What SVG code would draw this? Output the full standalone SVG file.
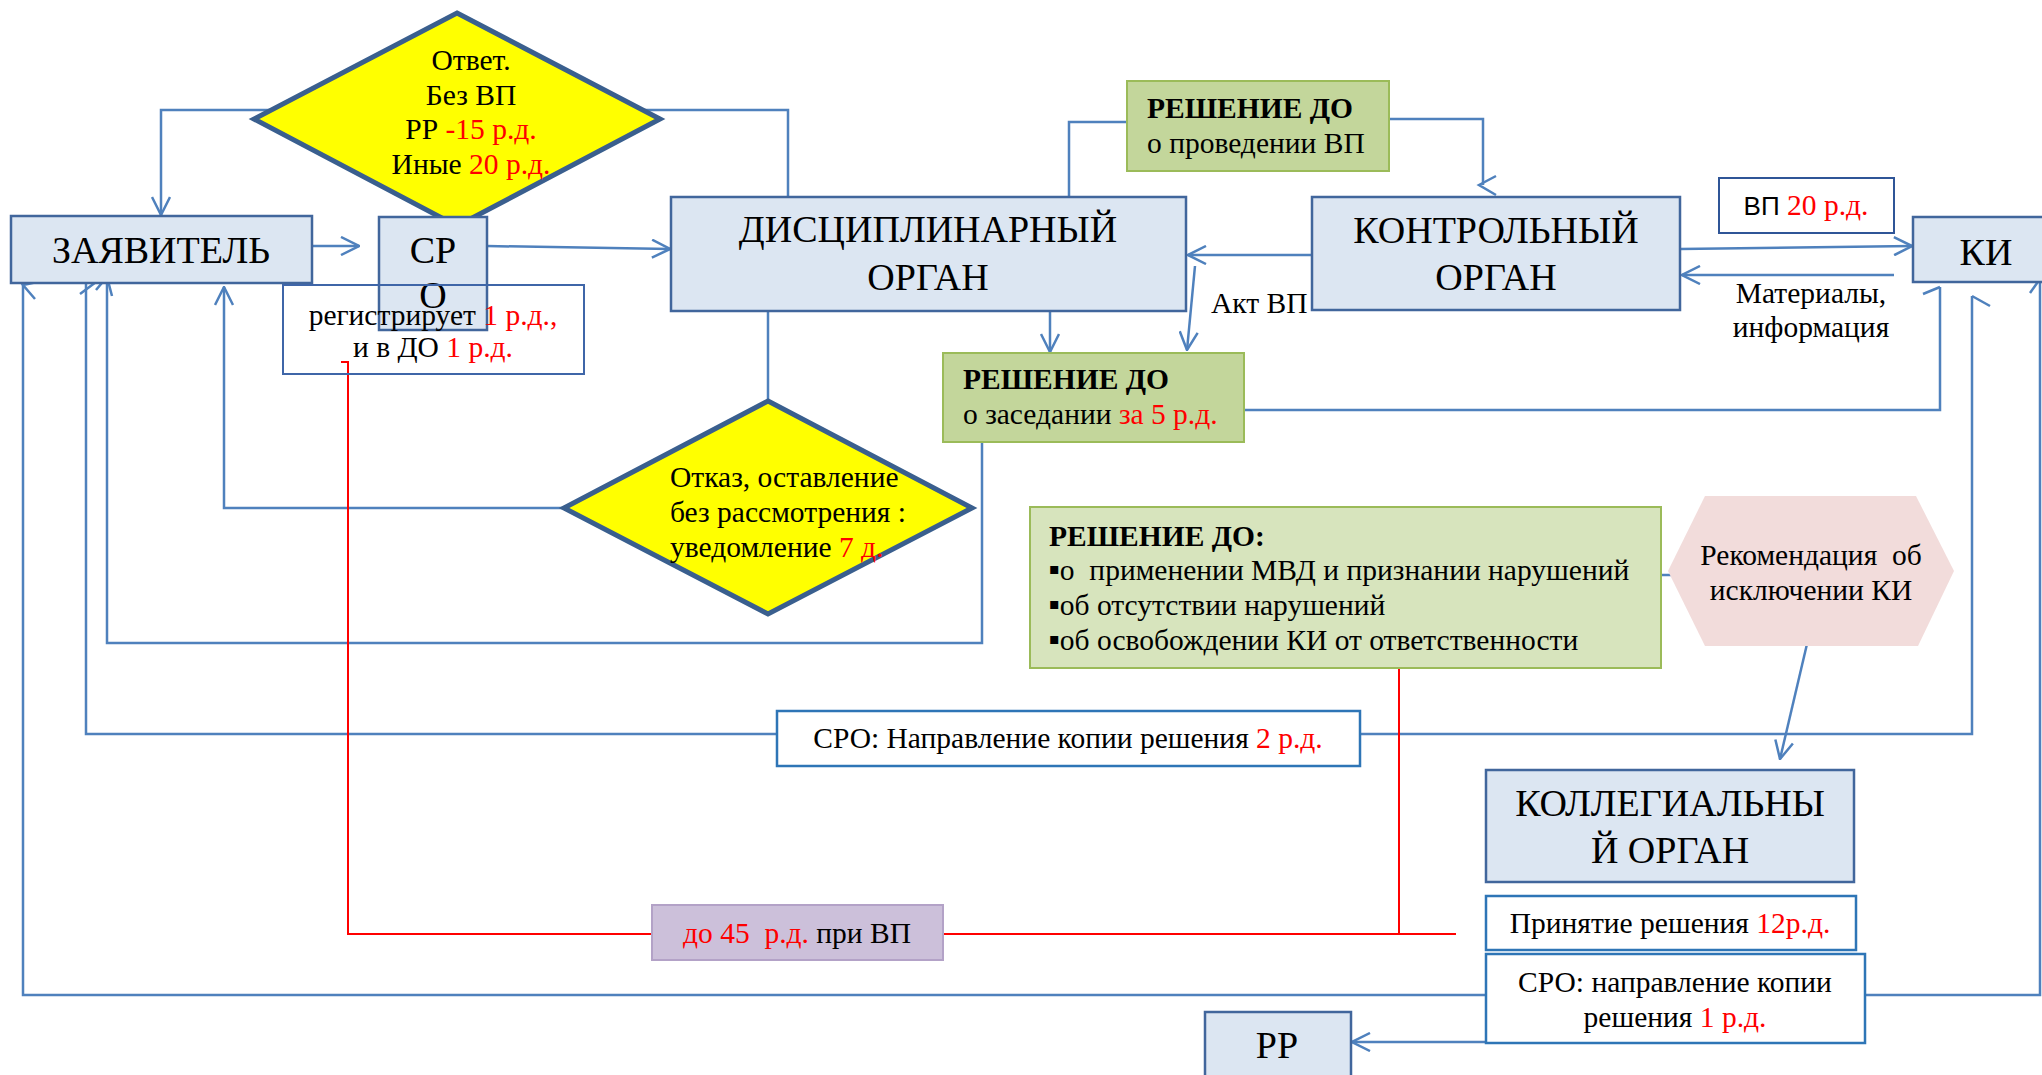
<svg xmlns="http://www.w3.org/2000/svg" width="2042" height="1075" viewBox="0 0 2042 1075">
<style>
text{font-family:"Liberation Serif","Times New Roman",serif;fill:#000;white-space:pre}
.big{font-size:38px}
.mid{font-size:29.5px}
.b{font-weight:bold}
.r{fill:#FF0000}
.sans{font-family:"Liberation Sans",Arial,sans-serif}
.org{fill:#DCE6F2;stroke:#41669C;stroke-width:2.5}
.dia{fill:#FFFF00;stroke:#3A5F8E;stroke-width:5;stroke-linejoin:miter}
.gr{fill:#C3D69B;stroke:#9BBB59;stroke-width:2}
.gr2{fill:#D7E4BD;stroke:#9BBB59;stroke-width:2}
.wb{fill:#FFFFFF;stroke:#2E75B6;stroke-width:2.5}
.ln{fill:none;stroke:#4F81BD;stroke-width:2.5}
.red{fill:none;stroke:#FF0000;stroke-width:2}
</style>
<defs>
<marker id="ah" viewBox="0 0 20 20" refX="19" refY="10" markerWidth="20" markerHeight="20" markerUnits="userSpaceOnUse" orient="auto">
<path d="M1,1 L19,10 L1,19" fill="none" stroke="#4F81BD" stroke-width="2.5"/>
</marker>
</defs>
<rect width="2042" height="1075" fill="#FFFFFF"/>

<g id="connectors">
<path class="ln" d="M300,110 H161 V215" marker-end="url(#ah)"/>
<path class="ln" d="M640,110 H788 V197"/>
<path class="ln" d="M312,246 H359" marker-end="url(#ah)"/>
<path class="ln" d="M487,246 L670,249" marker-end="url(#ah)"/>
<path class="ln" d="M1050,311 V352" marker-end="url(#ah)"/>
<path class="ln" d="M1312,255 H1188" marker-end="url(#ah)"/>
<path class="ln" d="M1195,266 L1187,350" marker-end="url(#ah)"/>
<path class="ln" d="M1069,197 V122 H1127"/>
<path class="ln" d="M1389,119 H1483 V185"/>
<polyline class="ln" points="1496,176 1479,185 1496,195"/>
<path class="ln" d="M1680,249 L1912,246" marker-end="url(#ah)"/>
<path class="ln" d="M1894,275 H1682" marker-end="url(#ah)"/>
<path class="ln" d="M1235,410 H1940 V287"/>
<polyline class="ln" points="1923,294 1940,287"/>
<path class="ln" d="M768,311 V400"/>
<path class="ln" d="M564,508 H224 V287" marker-end="url(#ah)"/>
<path class="ln" d="M982,440 V643 H107 V277"/>
<polyline class="ln" points="96,290 107,277 112,296"/>
<path class="ln" d="M86,283 V734 H1972 V296"/>
<polyline class="ln" points="80,275 96,282 80,294"/>
<polyline class="ln" points="1972,296 1990,306"/>
<path class="ln" d="M23,285 V995 H2040 V279"/>
<polyline class="ln" points="42,281 23,285 35,299"/>
<polyline class="ln" points="2030,293 2040,279"/>
<path class="ln" d="M1632,575 H1679"/>
<path class="ln" d="M1807,644 L1780,759" marker-end="url(#ah)"/>
<path class="ln" d="M1486,1042 H1352" marker-end="url(#ah)"/>
<path class="red" d="M341,362 H348 V934 H652"/>
<path class="red" d="M943,934 H1456"/>
<path class="red" d="M1399,663 V934"/>
</g>

<g id="otvet">
<polygon class="dia" points="457,13 660,119 457,226 254,119"/>
<text class="mid" x="471" y="70" text-anchor="middle">Ответ.</text>
<text class="mid" x="471" y="105" text-anchor="middle">Без ВП</text>
<text class="mid" x="471" y="139" text-anchor="middle">РР <tspan class="r">-15 р.д.</tspan></text>
<text class="mid" x="471" y="174" text-anchor="middle">Иные <tspan class="r">20 р.д.</tspan></text>
</g>

<g id="zayavitel">
<rect class="org" x="11" y="216" width="301" height="67"/>
<text class="big" x="161" y="263" text-anchor="middle">ЗАЯВИТЕЛЬ</text>
</g>

<g id="sro">
<rect class="org" x="379" y="217" width="108" height="113"/>
<text class="big" x="433" y="263" text-anchor="middle">СР</text>
<text class="big" x="433" y="308" text-anchor="middle">О</text>
</g>

<g id="registr">
<rect x="283" y="285" width="301" height="89" fill="none" stroke="#3F66A8" stroke-width="2"/>
<text class="mid" x="433" y="325" text-anchor="middle">регистрирует <tspan class="r">1 р.д.,</tspan></text>
<text class="mid" x="433" y="357" text-anchor="middle">и в ДО <tspan class="r">1 р.д.</tspan></text>
</g>

<g id="disc">
<rect class="org" x="671" y="197" width="515" height="114"/>
<text class="big" x="928" y="242" text-anchor="middle">ДИСЦИПЛИНАРНЫЙ</text>
<text class="big" x="928" y="290" text-anchor="middle">ОРГАН</text>
</g>

<g id="reshenie-vp">
<rect class="gr" x="1127" y="81" width="262" height="90"/>
<text class="mid b" x="1147" y="118">РЕШЕНИЕ ДО</text>
<text class="mid" x="1147" y="153">о проведении ВП</text>
</g>

<g id="kontrol">
<rect class="org" x="1312" y="197" width="368" height="113"/>
<text class="big" x="1496" y="243" text-anchor="middle">КОНТРОЛЬНЫЙ</text>
<text class="big" x="1496" y="290" text-anchor="middle">ОРГАН</text>
</g>

<g id="akt-label">
<text class="mid" x="1211" y="313">Акт ВП</text>
</g>

<g id="vp20">
<rect x="1719" y="178" width="175" height="55" fill="#FFFFFF" stroke="#2F5597" stroke-width="2"/>
<text class="mid" x="1806" y="215" text-anchor="middle"><tspan class="sans" font-size="26">ВП</tspan> <tspan class="r">20 р.д.</tspan></text>
</g>

<g id="ki">
<rect class="org" x="1913" y="217" width="135" height="65"/>
<text class="big" x="1986" y="265" text-anchor="middle">КИ</text>
</g>

<g id="materials-label">
<text class="mid" x="1811" y="303" text-anchor="middle">Материалы,</text>
<text class="mid" x="1811" y="337" text-anchor="middle">информация</text>
</g>

<g id="reshenie-zased">
<rect class="gr" x="943" y="353" width="301" height="89"/>
<text class="mid b" x="963" y="389">РЕШЕНИЕ ДО</text>
<text class="mid" x="963" y="424">о заседании <tspan class="r">за 5 р.д.</tspan></text>
</g>

<g id="otkaz">
<polygon class="dia" points="768,401 972,508 768,614 564,508"/>
<text class="mid" x="670" y="487">Отказ, оставление</text>
<text class="mid" x="670" y="522">без рассмотрения :</text>
<text class="mid" x="670" y="557">уведомление <tspan class="r">7 д.</tspan></text>
</g>

<g id="reshenie-itog">
<rect class="gr2" x="1030" y="507" width="631" height="161"/>
<text class="mid b" x="1049" y="546">РЕШЕНИЕ ДО:</text>
<text class="mid" x="1049" y="580"><tspan font-size="16" font-family="DejaVu Sans" dy="-6">▪</tspan><tspan dy="6">о  применении МВД и признании нарушений</tspan></text>
<text class="mid" x="1049" y="615"><tspan font-size="16" font-family="DejaVu Sans" dy="-6">▪</tspan><tspan dy="6">об отсутствии нарушений</tspan></text>
<text class="mid" x="1049" y="650"><tspan font-size="16" font-family="DejaVu Sans" dy="-6">▪</tspan><tspan dy="6">об освобождении КИ от ответственности</tspan></text>
</g>

<g id="rekomend">
<polygon points="1705,496 1916,496 1954,571 1918,646 1705,646 1668,571" fill="#F2DCDB"/>
<text class="mid" x="1811" y="565" text-anchor="middle">Рекомендация  об</text>
<text class="mid" x="1811" y="600" text-anchor="middle">исключении КИ</text>
</g>

<g id="sro-kopia-2">
<rect class="wb" x="777" y="711" width="583" height="55"/>
<text class="mid" x="1068" y="748" text-anchor="middle">СРО: Направление копии решения <tspan class="r">2 р.д.</tspan></text>
</g>

<g id="kolleg">
<rect class="org" x="1486" y="770" width="368" height="112"/>
<text class="big" x="1670" y="816" text-anchor="middle">КОЛЛЕГИАЛЬНЫ</text>
<text class="big" x="1670" y="863" text-anchor="middle">Й ОРГАН</text>
</g>

<g id="do45">
<rect x="652" y="905" width="291" height="55" fill="#CCC0DA" stroke="#B3A2C7" stroke-width="2"/>
<text class="mid" x="797" y="943" text-anchor="middle"><tspan class="r">до 45  р.д.</tspan> при ВП</text>
</g>

<g id="prinyatie">
<rect class="wb" x="1486" y="896" width="370" height="54"/>
<text class="mid" x="1670" y="933" text-anchor="middle">Принятие решения <tspan class="r">12р.д.</tspan></text>
</g>

<g id="sro-kopia-1">
<rect class="wb" x="1486" y="954" width="379" height="89"/>
<text class="mid" x="1675" y="992" text-anchor="middle">СРО: направление копии</text>
<text class="mid" x="1675" y="1027" text-anchor="middle">решения <tspan class="r">1 р.д.</tspan></text>
</g>

<g id="rr">
<rect class="org" x="1205" y="1012" width="146" height="75"/>
<text class="big" x="1277" y="1058" text-anchor="middle">РР</text>
</g>
</svg>
